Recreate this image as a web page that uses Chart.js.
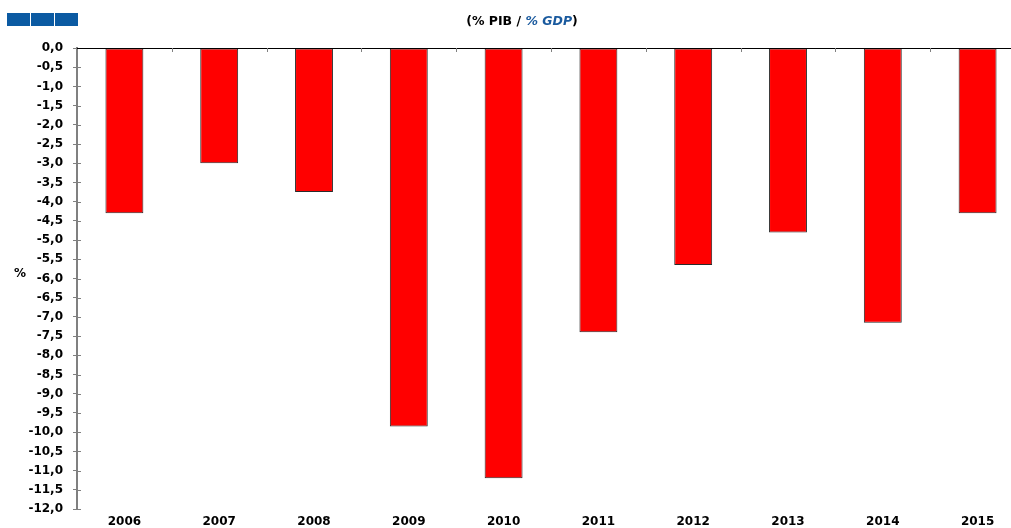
<!DOCTYPE html>
<html>
<head>
<meta charset="utf-8">
<script src="https://cdn.jsdelivr.net/npm/chart.js@4"></script>
<style>
  html, body { margin: 0; padding: 0; background: #fff; overflow: hidden; }
  #wrap { position: absolute; left: 0; top: 0; width: 1025px; height: 528px; }
</style>
</head>
<body>
<div id="wrap"><canvas id="deficitChart" width="1025" height="528"></canvas></div>
<script>
// datos
const years = ['2006', '2007', '2008', '2009', '2010', '2011', '2012', '2013', '2014', '2015'];
const deficit = [-4.3, -3.0, -3.75, -9.85, -11.2, -7.4, -5.65, -4.8, -7.15, -4.3];
const yMin = -12;
const yMax = 0;
const yStep = 0.5;
const titleParts = ['(% PIB / ', '% GDP', ')'];
const axisUnit = '%';

const FONT = '"DejaVu Sans", Verdana, sans-serif';
const fmt = v => (Math.abs(v) < 1e-9 ? 0 : v).toFixed(1).replace('.', ',');

const decorPlugin = {
  id: 'decor',
  afterDraw(chart) {
    const ctx = chart.ctx;
    const area = chart.chartArea;
    const x = chart.scales.x;
    const y = chart.scales.y;
    ctx.save();

    // cuadros azules arriba a la izquierda
    ctx.fillStyle = '#0b5aa2';
    [7, 31, 55].forEach(left => ctx.fillRect(left, 13, 23, 13));

    // marcas del eje y hacia dentro
    ctx.strokeStyle = '#808080';
    ctx.lineWidth = 1;
    ctx.beginPath();
    y.ticks.forEach((t, i) => {
      const py = Math.round(y.getPixelForTick(i)) + 0.5;
      ctx.moveTo(area.left, py);
      ctx.lineTo(area.left + 4, py);
    });
    ctx.stroke();

    // linea del cero con marcas entre categorias
    ctx.strokeStyle = '#000';
    ctx.beginPath();
    ctx.moveTo(area.left, area.top + 0.5);
    ctx.lineTo(chart.width, area.top + 0.5);
    ctx.stroke();
    ctx.strokeStyle = '#808080';
    ctx.beginPath();
    for (let i = 1; i < years.length; i++) {
      const bx = Math.round((x.getPixelForTick(i - 1) + x.getPixelForTick(i)) / 2) + 0.5;
      ctx.moveTo(bx, area.top);
      ctx.lineTo(bx, area.top + 4);
    }
    ctx.stroke();

    // titulo
    ctx.textBaseline = 'middle';
    const fonts = ['bold 12.5px ' + FONT, 'italic bold 12.5px ' + FONT, 'bold 12.5px ' + FONT];
    const colors = ['#000', '#1a5a9e', '#000'];
    let total = 0;
    const widths = titleParts.map((t, i) => {
      ctx.font = fonts[i];
      const w = ctx.measureText(t).width;
      total += w;
      return w;
    });
    let tx = 522 - total / 2;
    titleParts.forEach((t, i) => {
      ctx.font = fonts[i];
      ctx.fillStyle = colors[i];
      ctx.textAlign = 'left';
      ctx.fillText(t, tx, 22);
      tx += widths[i];
    });

    // unidad del eje
    ctx.font = 'bold 12px ' + FONT;
    ctx.fillStyle = '#000';
    ctx.textAlign = 'center';
    ctx.fillText(axisUnit, 20, 274);
    ctx.restore();
  }
};

new Chart(document.getElementById('deficitChart'), {
  type: 'bar',
  data: {
    labels: years,
    datasets: [
      {
        data: deficit,
        backgroundColor: '#ff0000',
        borderColor: '#2b2b2b',
        borderWidth: 1,
        borderSkipped: false,
        barPercentage: 0.4,
        categoryPercentage: 1
      }
    ]
  },
  options: {
    responsive: false,
    animation: false,
    devicePixelRatio: 1,
    layout: { padding: { top: 48, left: 0, right: 0, bottom: 0 } },
    plugins: {
      legend: { display: false },
      tooltip: { enabled: false }
    },
    scales: {
      x: {
        position: 'bottom',
        grid: { display: false, drawTicks: false },
        border: { display: false },
        ticks: {
          color: '#000',
          padding: 6,
          maxRotation: 0,
          font: { family: FONT, size: 12, weight: 'bold' }
        },
        afterFit(scale) { scale.height = 19; }
      },
      y: {
        min: yMin,
        max: yMax,
        border: { display: true, color: '#808080', width: 2 },
        grid: { drawOnChartArea: false, drawTicks: true, tickLength: 4, color: '#808080' },
        ticks: {
          stepSize: yStep,
          autoSkip: false,
          color: '#000',
          padding: 10,
          font: { family: FONT, size: 12, weight: 'bold' },
          callback: v => fmt(v)
        },
        afterFit(scale) { scale.width = 77; }
      }
    }
  },
  plugins: [decorPlugin]
});
</script>
</body>
</html>
